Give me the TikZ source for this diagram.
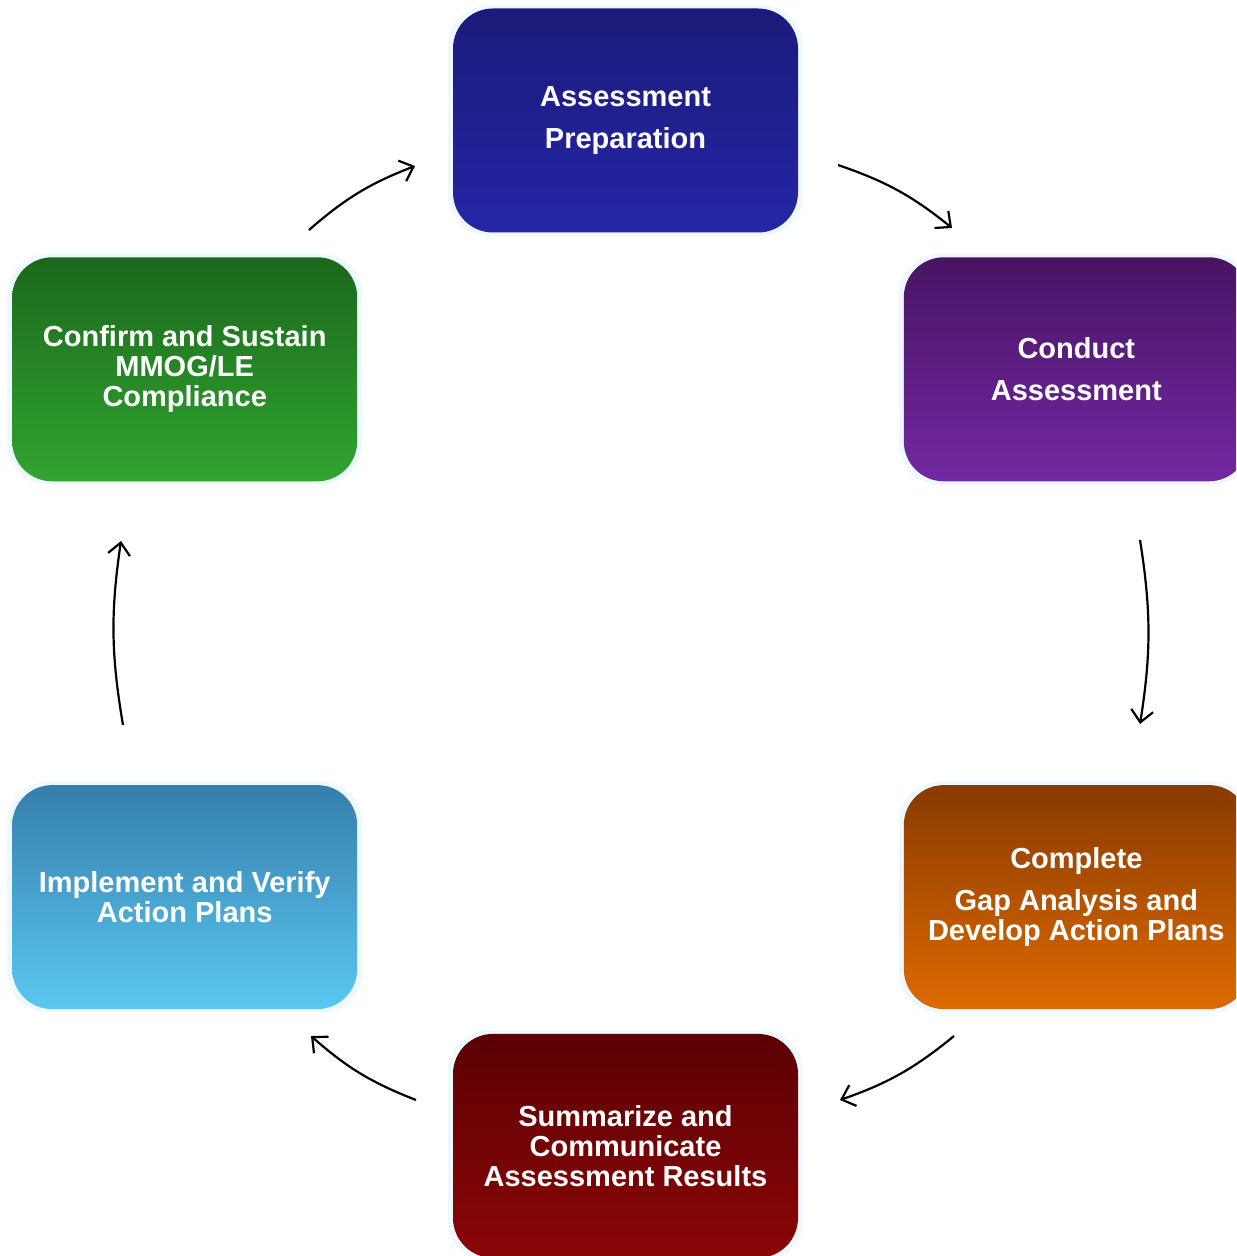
\documentclass[tikz,border=0pt]{standalone}
\usepackage{fontspec}
\setmainfont{Liberation Sans}
\usetikzlibrary{positioning,arrows.meta,shadows}
\tikzset{>={Straight Barb[length=6pt,width=11pt]}}
\definecolor{prepTop}{RGB}{28,26,122}
\definecolor{prepBot}{RGB}{36,38,166}
\definecolor{condTop}{RGB}{72,20,100}
\definecolor{condBot}{RGB}{114,40,162}
\definecolor{gapTop}{RGB}{136,58,0}
\definecolor{gapBot}{RGB}{222,106,0}
\definecolor{sumTop}{RGB}{92,0,4}
\definecolor{sumBot}{RGB}{138,6,6}
\definecolor{implTop}{RGB}{54,126,172}
\definecolor{implBot}{RGB}{90,200,242}
\definecolor{confTop}{RGB}{28,104,28}
\definecolor{confBot}{RGB}{48,164,48}

\begin{document}
\begin{tikzpicture}[x=0.5pt,y=-0.5pt,
    stage/.style={rounded corners=20pt, minimum width=172.5pt, minimum height=112pt,
      inner sep=0pt, align=center, text=white,
      font=\bfseries\fontsize{14.5}{15}\selectfont,
      general shadow={fill=cyan!7, shadow scale=1.03}},
    flow/.style={->, line width=1.1pt}]
		\useasboundingbox (0,0) rectangle (1236,1256);
		\clip (0,0) rectangle (1236,1256);
		
		\node(prep) [stage, top color=prepTop, bottom color=prepBot] at (625.5,120.5) {Assessment\\[6pt]Preparation}; 
		\node(cond) [stage, top color=condTop, bottom color=condBot, below right=12pt and 52.5pt of prep] {Conduct\\[6pt]Assessment}; 
		\node(gap) [stage, top color=gapTop, bottom color=gapBot, below=151.5pt of cond] {Complete\\[6pt]Gap Analysis and\\Develop Action Plans}; 
		\node(sum) [stage, top color=sumTop, bottom color=sumBot, below left=12pt and 52.5pt of gap] {Summarize and\\Communicate\\Assessment Results}; 
		\node(impl) [stage, top color=implTop, bottom color=implBot, above left=12pt and 47.5pt of sum] {Implement and Verify\\Action Plans}; 
		\node(conf) [stage, top color=confTop, bottom color=confBot, above=151.5pt of impl] {Confirm and Sustain\\MMOG/LE\\Compliance}; 
		
		% free ends of the cycle arrows
		\coordinate(c1s) at (309,230); \coordinate(c1e) at (415,166);
		\coordinate(c2s) at (838,165); \coordinate(c2e) at (952,228);
		\coordinate(c3s) at (1140,540); \coordinate(c3e) at (1140,724);
		\coordinate(c4s) at (954,1036); \coordinate(c4e) at (840,1100);
		\coordinate(c5s) at (416,1100); \coordinate(c5e) at (311,1036);
		\coordinate(c6s) at (123,725); \coordinate(c6e) at (121,541);
		
		\draw[flow] (c1s) to[bend left=10] (c1e); 
		\draw[flow] (c2s) to[bend left=10] (c2e); 
		\draw[flow] (c3s) to[bend left=9] (c3e); 
		\draw[flow] (c4s) to[bend left=10] (c4e); 
		\draw[flow] (c5s) to[bend left=10] (c5e); 
		\draw[flow] (c6s) to[bend left=9] (c6e); 
	\end{tikzpicture}
\end{document}
